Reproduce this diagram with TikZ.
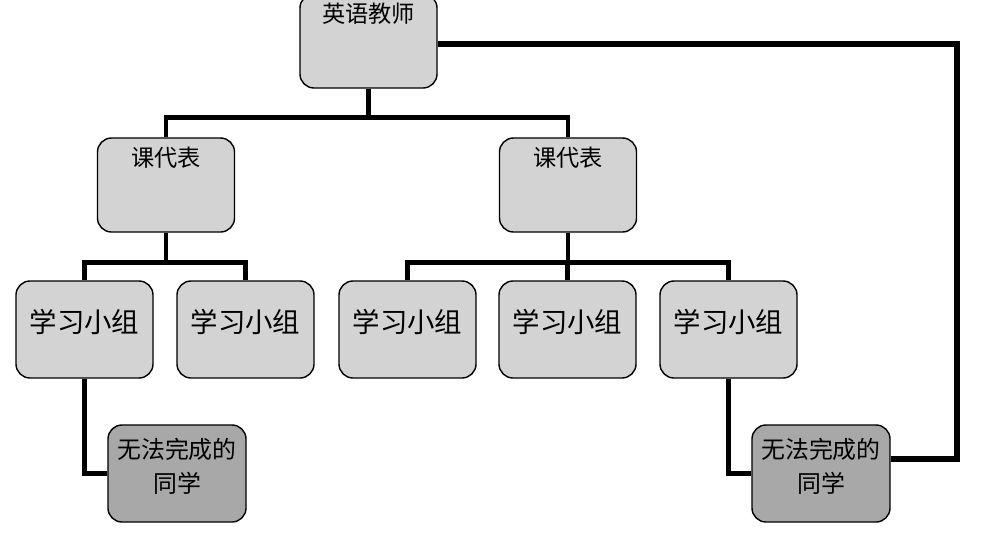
\documentclass[tikz,border=0pt]{standalone}
\usepackage{fontspec}
\newfontfamily\cjk{Noto Sans CJK SC}
\usetikzlibrary{positioning}
\definecolor{boxgray}{RGB}{211,211,211}
\definecolor{weakgray}{RGB}{168,168,168}

\begin{document}
\begin{tikzpicture}[
  x=0.025cm, y=-0.025cm,
  head/.style={
    rectangle, rounded corners=10pt, draw=black, fill=boxgray, line width=1pt,
    minimum width=3.425cm, minimum height=2.35cm, inner ysep=0pt,
    text height=0.72cm, text depth=1.63cm, font=\cjk\fontsize{16.5}{20}\selectfont
  },
  group/.style={
    rectangle, rounded corners=10pt, draw=black, fill=boxgray, line width=1pt,
    minimum width=3.425cm, minimum height=2.425cm, inner ysep=0pt,
    text height=1.28cm, text depth=1.145cm, font=\cjk\fontsize{19.5}{23}\selectfont
  },
  weak/.style={
    rectangle, rounded corners=10pt, draw=black, fill=weakgray, line width=1pt,
    minimum width=3.45cm, minimum height=2.425cm, inner ysep=0pt, align=center,
    text height=1.675cm, text depth=0.75cm,
    font=\cjk\fontsize{17}{23.5}\selectfont
  },
  link/.style={line width=3.5pt, black}
]
  \useasboundingbox (0,0) rectangle (983,559);

  \node[head] (teacher) at (368.5,41) {英语教师};
  \node[head] (repl) at (166,185) {课代表};
  \node[head] (repr) at (568,185) {课代表};

  \node[group] (ga) at (84.5,329.5)  {学习小组};
  \node[group] (gb) at (245.5,329.5) {学习小组};
  \node[group] (gc) at (407.5,329.5) {学习小组};
  \node[group] (gd) at (567.5,329.5) {学习小组};
  \node[group] (ge) at (728.5,329.5) {学习小组};

  \node[weak] (wl) at (177,473.5) {无法完成的\\同学};
  \node[weak] (wr) at (821,473.5) {无法完成的\\同学};

  \foreach \n in {repl,repr} {
    \draw[link] (teacher.south) -- ++(0,29) -| (\n.north);
  }
  \foreach \n in {ga,gb} {
    \draw[link] (repl.south) -- ++(0,30) -| (\n.north);
  }
  \foreach \n in {gc,gd,ge} {
    \draw[link] (repr.south) -- ++(0,30) -| (\n.north);
  }
  \draw[link] (ga.south) |- (wl.west);
  \draw[link] (ge.south) |- (wr.west);

  \coordinate (turn) at (957,459);
  \draw[link, line width=4.5pt] ([yshift=-2pt]teacher.east) -| (turn) -- (turn -| wr.east);
\end{tikzpicture}
\end{document}
